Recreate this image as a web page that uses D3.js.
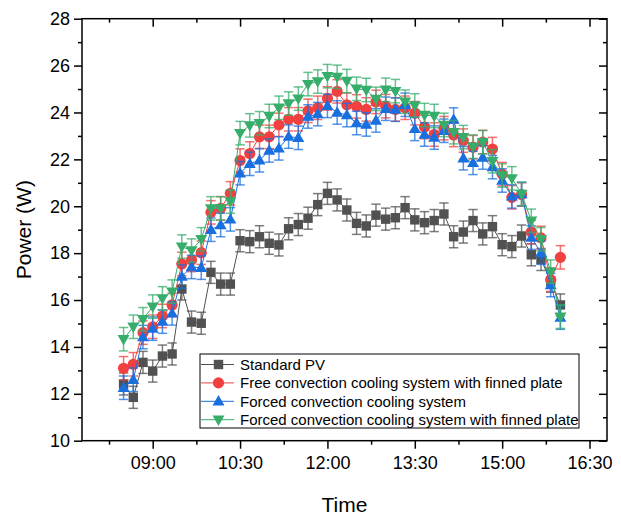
<!DOCTYPE html>
<html>
<head>
<meta charset="utf-8">
<script src="https://cdn.jsdelivr.net/npm/d3@7"></script>
<style>
    body { margin: 0; background: #fff; }
    text { font-family: Arial, "Liberation Sans", sans-serif; }
</style>
</head>
<body>
<div id="chart"></div>
<script>
// measurement times (every 10 minutes)
const times = ["08:30","08:40","08:50","09:00","09:10","09:20","09:30","09:40","09:50",
    "10:00","10:10","10:20","10:30","10:40","10:50","11:00","11:10","11:20","11:30","11:40","11:50",
    "12:00","12:10","12:20","12:30","12:40","12:50","13:00","13:10","13:20","13:30","13:40","13:50",
    "14:00","14:10","14:20","14:30","14:40","14:50","15:00","15:10","15:20","15:30","15:40","15:50","16:00"];

const standardPV = [12.42,11.85,13.34,12.97,13.61,13.70,16.47,15.06,15.01,
    17.18,16.68,16.68,18.53,18.49,18.70,18.42,18.35,19.04,19.22,19.49,20.07,
    20.55,20.27,19.84,19.27,19.16,19.62,19.45,19.51,19.94,19.42,19.30,19.39,
    19.67,18.70,18.90,19.39,18.82,19.13,18.36,18.28,18.73,17.93,17.73,16.80,15.79];

const freeFinned = [13.09,13.26,14.61,14.86,15.32,15.79,17.54,17.71,18.02,
    19.74,19.91,20.55,21.95,22.25,22.96,22.96,23.47,23.71,23.71,24.07,24.20,
    24.60,24.90,24.33,24.26,24.13,24.45,24.27,24.13,24.20,23.97,23.38,23.06,
    23.33,23.04,22.80,22.52,22.74,22.44,21.37,20.38,20.50,18.90,18.65,16.87,17.82];

const forced = [12.26,12.60,14.42,14.78,15.08,15.43,17.00,17.41,17.38,
    19.00,19.20,19.44,21.41,21.81,21.96,22.38,22.47,22.97,22.92,23.83,23.93,
    24.28,24.00,23.89,23.55,23.49,23.66,24.16,24.12,24.33,23.30,23.06,22.93,
    23.22,23.70,22.05,21.85,22.08,21.67,21.10,20.42,20.52,18.66,18.02,16.64,15.25];

const forcedFinned = [14.33,14.86,15.18,15.72,16.07,16.36,18.28,18.11,18.59,
    19.91,19.91,20.20,23.12,23.45,23.54,23.85,24.20,24.38,24.59,25.21,25.32,
    25.55,25.52,25.34,25.01,24.96,24.58,24.97,24.91,24.46,24.30,23.89,23.85,
    23.47,23.16,22.95,22.54,22.73,21.92,21.31,21.19,20.53,19.38,18.59,17.21,15.29];

const errors = [0.47, 0.5, 0.5, 0.5];

const seriesNames = ["Standard PV",
    "Free convection cooling system with finned plate",
    "Forced convection cooling system",
    "Forced convection cooling system with finned plate"];
const seriesColors = ["#515151", "#F14040", "#1A6FDF", "#37AD6B"];
const seriesSymbols = ["square", "circle", "up", "down"];

const xMajorTicks = ["09:00","10:30","12:00","13:30","15:00","16:30"];
const xMinorTicks = ["08:15","09:45","11:15","12:45","14:15","15:45"];
const yMajorTicks = [10,12,14,16,18,20,22,24,26,28];
const yMinorTicks = [11,13,15,17,19,21,23,25,27];

let parseTime = d3.timeParse("%H:%M");
let parseTimeSec = d3.timeParse("%H:%M:%S");

let margin = {top: 18.7, right: 14, bottom: 74.3, left: 82};
let W = 621, H = 515;
let width = W - margin.left - margin.right;
let height = H - margin.top - margin.bottom;

let svg = d3.select("#chart").append("svg")
    .attr("width", W)
    .attr("height", H);

let g = svg.append("g")
    .attr("transform", `translate(${margin.left},${margin.top})`);

let x = d3.scaleTime()
    .domain([parseTimeSec("07:47:10"), parseTimeSec("16:48:00")])
    .range([0, width]);

let y = d3.scaleLinear()
    .domain([10, 28])
    .range([height, 0]);

// axes
let fmt = d3.timeFormat("%H:%M");
function styleAxis(sel) {
    sel.select(".domain").remove();
    sel.selectAll(".tick line").attr("stroke", "#000").attr("stroke-width", 1.5);
    sel.selectAll(".tick text").attr("fill", "#000").style("font-size", "18px");
}

g.append("g").attr("transform", `translate(0,${height})`)
    .call(d3.axisBottom(x).tickValues(xMajorTicks.map(parseTime)).tickSize(8).tickPadding(8).tickFormat(fmt))
    .call(styleAxis);
g.append("g").attr("transform", `translate(0,${height})`)
    .call(d3.axisBottom(x).tickValues(xMinorTicks.map(parseTime)).tickSize(4).tickFormat(""))
    .call(styleAxis);
g.append("g")
    .call(d3.axisTop(x).tickValues(xMajorTicks.map(parseTime)).tickSize(-8).tickFormat(""))
    .call(styleAxis);
g.append("g")
    .call(d3.axisTop(x).tickValues(xMinorTicks.map(parseTime)).tickSize(-4).tickFormat(""))
    .call(styleAxis);

g.append("g")
    .call(d3.axisLeft(y).tickValues(yMajorTicks).tickSize(8).tickPadding(4))
    .call(styleAxis);
g.append("g")
    .call(d3.axisLeft(y).tickValues(yMinorTicks).tickSize(4).tickFormat(""))
    .call(styleAxis);
g.append("g").attr("transform", `translate(${width},0)`)
    .call(d3.axisRight(y).tickValues(yMajorTicks).tickSize(-8).tickFormat(""))
    .call(styleAxis);
g.append("g").attr("transform", `translate(${width},0)`)
    .call(d3.axisRight(y).tickValues(yMinorTicks).tickSize(-4).tickFormat(""))
    .call(styleAxis);

// frame
g.append("rect")
    .attr("width", width)
    .attr("height", height)
    .attr("fill", "none")
    .attr("stroke", "#000")
    .attr("stroke-width", 1.5);

// axis titles
svg.append("text")
    .attr("x", margin.left + width / 2)
    .attr("y", 512)
    .attr("text-anchor", "middle")
    .style("font-size", "21px")
    .text("Time");

svg.append("text")
    .attr("transform", `translate(31,${margin.top + height / 2}) rotate(-90)`)
    .attr("text-anchor", "middle")
    .style("font-size", "21px")
    .text("Power (W)");

// symbols
function drawSymbol(sel, type, color) {
    if (type === "square") {
        sel.append("rect").attr("x", -4.7).attr("y", -4.7).attr("width", 9.4).attr("height", 9.4).attr("fill", color);
    } else if (type === "circle") {
        sel.append("circle").attr("r", 5.6).attr("fill", color);
    } else if (type === "up") {
        sel.append("path").attr("d", "M0,-6.2L6,4.2L-6,4.2Z").attr("fill", color);
    } else {
        sel.append("path").attr("d", "M0,6.2L6,-4.2L-6,-4.2Z").attr("fill", color);
    }
}

let allSeries = [standardPV, freeFinned, forced, forcedFinned];
let line = d3.line()
    .x((d, i) => x(parseTime(times[i])))
    .y(d => y(d));

allSeries.forEach((vals, s) => {
    let color = seriesColors[s];
    let sg = g.append("g").attr("class", "series");

    sg.append("path")
        .datum(vals)
        .attr("d", line)
        .attr("fill", "none")
        .attr("stroke", color)
        .attr("stroke-width", 1);

    let eb = sg.selectAll(".err")
        .data(vals)
        .enter()
        .append("g")
        .attr("class", "err")
        .attr("stroke", color)
        .attr("stroke-opacity", 0.75)
        .attr("stroke-width", 1.5);
    eb.append("line")
        .attr("x1", (d, i) => x(parseTime(times[i])))
        .attr("x2", (d, i) => x(parseTime(times[i])))
        .attr("y1", d => y(d - errors[s]))
        .attr("y2", d => y(d + errors[s]));
    [1, -1].forEach(sign => {
        eb.append("line")
            .attr("x1", (d, i) => x(parseTime(times[i])) - 4.7)
            .attr("x2", (d, i) => x(parseTime(times[i])) + 4.7)
            .attr("y1", d => y(d + sign * errors[s]))
            .attr("y2", d => y(d + sign * errors[s]));
    });

    sg.selectAll(".pt")
        .data(vals)
        .enter()
        .append("g")
        .attr("class", "pt")
        .attr("transform", (d, i) => `translate(${x(parseTime(times[i]))},${y(d)})`)
        .each(function () { drawSymbol(d3.select(this), seriesSymbols[s], color); });
});

// legend
let legend = svg.append("g").attr("transform", "translate(200,354)");
legend.append("rect")
    .attr("width", 379)
    .attr("height", 74)
    .attr("fill", "#fff")
    .attr("stroke", "#000")
    .attr("stroke-width", 1);

seriesNames.forEach((name, s) => {
    let row = legend.append("g").attr("transform", `translate(0,${10.5 + s * 18.4})`);
    row.append("line")
        .attr("x1", 1).attr("x2", 34)
        .attr("stroke", seriesColors[s])
        .attr("stroke-width", 1);
    let sym = row.append("g").attr("transform", "translate(18.5,0)");
    drawSymbol(sym, seriesSymbols[s], seriesColors[s]);
    row.append("text")
        .attr("x", 40)
        .attr("y", 5.5)
        .style("font-size", "15px")
        .text(name);
});
</script>
</body>
</html>
